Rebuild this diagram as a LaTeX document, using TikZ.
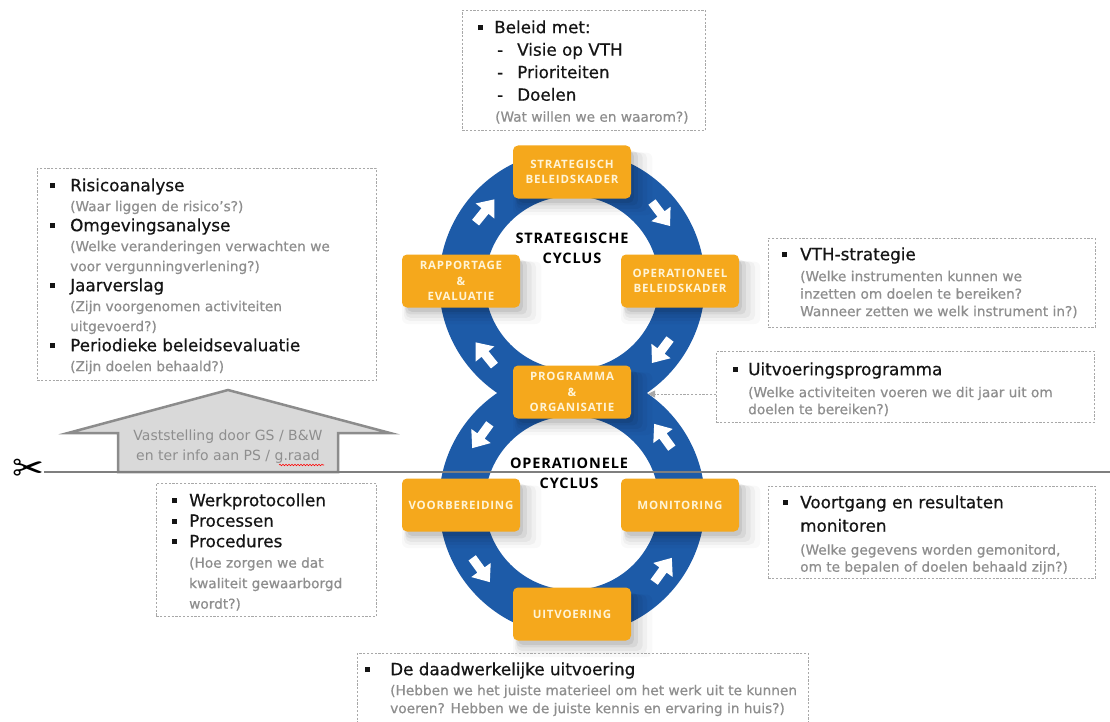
\documentclass[tikz,border=0pt]{standalone}
\usepackage{fontspec}
\setmainfont{DejaVu Sans}
\newfontfamily\boxf{Open Sans}
\newfontfamily\symf{DejaVu Sans}
\usetikzlibrary{arrows.meta,decorations.pathmorphing,shadows}
\definecolor{ringblue}{HTML}{1D5BA8}
\definecolor{boxorange}{HTML}{F5A81C}
\definecolor{boxtext}{HTML}{FFF4D6}
\definecolor{graytxt}{HTML}{8E8E8E}
\definecolor{dashgray}{HTML}{A8A8A8}
\definecolor{linegray}{HTML}{7F7F7F}
\definecolor{housefill}{HTML}{D9D9D9}
\definecolor{houseline}{HTML}{8C8C8C}
\definecolor{blacktxt}{HTML}{151515}
\newcommand\bl[1]{\makebox[#1][l]{\raisebox{3pt}{\rule{5pt}{5pt}}}}
\newcommand\gtx[1]{{\color{graytxt}\fontsize{13.7}{16}\selectfont #1}}
\newcommand\fst{\rule{0pt}{14pt}}
\tikzset{
  warr/.pic={\fill[white] (-15,-4.5) -- (0,-4.5) -- (0,-12) -- (15,0) -- (0,12) -- (0,4.5) -- (-15,4.5) -- cycle;},
  obox/.style={rectangle, rounded corners=5pt, fill=boxorange, minimum width=118pt,
    minimum height=53pt, inner sep=0pt, text=boxtext, align=center,
    font=\boxf\bfseries\fontsize{11.5}{15.5}\selectfont\addfontfeature{LetterSpace=7},
    general shadow={fill=black, opacity=0.025, shadow xshift=9pt, shadow yshift=-10pt, shadow scale=1.18},
    general shadow={fill=black, opacity=0.035, shadow xshift=8pt, shadow yshift=-9pt, shadow scale=1.12},
    general shadow={fill=black, opacity=0.045, shadow xshift=7pt, shadow yshift=-8pt, shadow scale=1.07},
    general shadow={fill=black, opacity=0.06, shadow xshift=5pt, shadow yshift=-6pt, shadow scale=1.03},
    general shadow={fill=black, opacity=0.07, shadow xshift=4pt, shadow yshift=-5pt, shadow scale=0.98}},
  dbox/.style={draw=dashgray, line width=0.9pt, dash pattern=on 2.2pt off 1.6pt, inner sep=0pt, anchor=north west},
  btxt/.style={anchor=north west, inner sep=0pt, align=left, text=blacktxt,
    font=\fontsize{16.8}{#1}\selectfont\addfontfeature{FakeBold=0.6}},
  ctxt/.style={font=\boxf\bfseries\fontsize{14.5}{20}\selectfont\addfontfeature{LetterSpace=6}, align=center, inner sep=0pt},
}
\begin{document}
\begin{tikzpicture}[x=1pt,y=-1pt]
\useasboundingbox (0,0) rectangle (1110,722);
\fill[white] (0,0) rectangle (1110,722);

% rings
\coordinate (uc) at (572,283);
\coordinate (lc) at (572,503);
\fill[ringblue, even odd rule] (uc) circle[radius=133pt] (uc) circle[radius=87pt];
\fill[ringblue, even odd rule] (lc) circle[radius=133pt] (lc) circle[radius=87pt];

% white arrows
\pic[rotate=51] at (485,211) {warr};
\pic[rotate=-53] at (661,214) {warr};
\pic[rotate=-127] at (661,351) {warr};
\pic[rotate=129] at (485,354) {warr};
\pic[rotate=-126] at (481,436) {warr};
\pic[rotate=126] at (663,436) {warr};
\pic[rotate=-54] at (481,570) {warr};
\pic[rotate=54] at (663,570) {warr};

% house
\draw[fill=housefill, draw=houseline, line width=2.5pt, line join=miter]
  (118,472) -- (118,433) -- (68,433) -- (228,390) -- (390,433) -- (338,433) -- (338,472) -- cycle;
\node[align=center, text=graytxt, font=\fontsize{14}{20}\selectfont, inner sep=0pt] (house) at (228,447)
  {Vaststelling door GS / B\&W\\en ter info aan PS / g.raad};
\draw[red, line width=0.6pt, decorate, decoration={snake, amplitude=0.7pt, segment length=3pt}] (279,465) -- (324,465);

% cut line
\node[font=\symf\fontsize{38}{38}\selectfont, inner sep=0pt] (sc) at (28,470) {✂};
\coordinate (cutR) at (1110,472);
\draw[linegray, line width=2.5pt] (sc.east |- cutR) -- (cutR);

% cycle labels
\node[ctxt] (sc1) at (572,248) {STRATEGISCHE\\CYCLUS};
\node[ctxt] (oc1) at (569,473) {OPERATIONELE\\CYCLUS};

% orange boxes
\node[obox] (sbk) at (572,172) {STRATEGISCH\\BELEIDSKADER};
\node[obox] (rap) at (461,281) {RAPPORTAGE\\\&\\EVALUATIE};
\node[obox] (obk) at (680,281) {OPERATIONEEL\\BELEIDSKADER};
\node[obox] (prog) at (572,392) {PROGRAMMA\\\&\\ORGANISATIE};
\node[obox] (voor) at (461,505) {VOORBEREIDING};
\node[obox] (mon) at (680,505) {MONITORING};
\node[obox] (uitv) at (572,614) {UITVOERING};

% dashed text boxes
\node[dbox, minimum width=243pt, minimum height=120pt] (topbox) at (462,10) {};
\node[btxt=22.5] (toptxt) at (478,19) {\fst\bl{16pt}Beleid met:\\
  \hspace*{19pt}\makebox[20pt][l]{-}Visie op VTH\\
  \hspace*{19pt}\makebox[20pt][l]{-}Prioriteiten\\
  \hspace*{19pt}\makebox[20pt][l]{-}Doelen\\[-1.5pt]
  \hspace*{17pt}\gtx{(Wat willen we en waarom?)}};

\node[dbox, minimum width=339pt, minimum height=212pt] (leftbox) at (37,168) {};
\node[btxt=20] (lefttxt) at (50,177) {\fst\bl{20pt}Risicoanalyse\\
  \hspace*{20pt}\gtx{(Waar liggen de risico's?)}\\
  \bl{20pt}Omgevingsanalyse\\
  \hspace*{20pt}\gtx{(Welke veranderingen verwachten we}\\
  \hspace*{20pt}\gtx{voor vergunningverlening?)}\\
  \bl{20pt}Jaarverslag\\
  \hspace*{20pt}\gtx{(Zijn voorgenomen activiteiten}\\
  \hspace*{20pt}\gtx{uitgevoerd?)}\\
  \bl{20pt}Periodieke beleidsevaluatie\\
  \hspace*{20pt}\gtx{(Zijn doelen behaald?)}};

\node[dbox, minimum width=220pt, minimum height=133pt] (blbox) at (156,483) {};
\node[btxt=20.5] (bltxt) at (172,492) {\fst\bl{17pt}Werkprotocollen\\
  \bl{17pt}Processen\\
  \bl{17pt}Procedures\\
  \hspace*{17pt}\gtx{(Hoe zorgen we dat}\\
  \hspace*{17pt}\gtx{kwaliteit gewaarborgd}\\
  \hspace*{17pt}\gtx{wordt?)}};

\node[dbox, minimum width=327pt, minimum height=89pt] (vthbox) at (768,238) {};
\node[btxt=17.5] (vthtxt) at (782,246) {\fst\bl{18pt}VTH-strategie\\[3.5pt]
  \hspace*{18pt}\gtx{(Welke instrumenten kunnen we}\\
  \hspace*{18pt}\gtx{inzetten om doelen te bereiken?}\\
  \hspace*{18pt}\gtx{Wanneer zetten we welk instrument in?)}};

\node[dbox, minimum width=378pt, minimum height=71pt] (upbox) at (716,351) {};
\node[btxt=17] (uptxt) at (733,361) {\fst\bl{15pt}Uitvoeringsprogramma\\[5pt]
  \hspace*{15pt}\gtx{(Welke activiteiten voeren we dit jaar uit om}\\
  \hspace*{15pt}\gtx{doelen te bereiken?)}};

\node[dbox, minimum width=327pt, minimum height=92pt] (vgbox) at (768,486) {};
\node[btxt=17] (vgtxt) at (783,494) {\fst\bl{17pt}Voortgang en resultaten\\[6.5pt]
  \hspace*{17pt}monitoren\\[6pt]
  \hspace*{17pt}\gtx{(Welke gegevens worden gemonitord,}\\
  \hspace*{17pt}\gtx{om te bepalen of doelen behaald zijn?)}};

\node[dbox, minimum width=451pt, minimum height=75pt] (botbox) at (357,653) {};
\node[btxt=18] (bottxt) at (365,661) {\fst\bl{25pt}De daadwerkelijke uitvoering\\[2pt]
  \hspace*{25pt}\gtx{(Hebben we het juiste materieel om het werk uit te kunnen}\\
  \hspace*{25pt}\gtx{voeren? Hebben we de juiste kennis en ervaring in huis?)}};

% connector
\coordinate (ptip) at (648,394);
\draw[dashgray, line width=0.9pt, dash pattern=on 2.2pt off 1.6pt, -{Triangle[length=7pt,width=7pt]}]
  (upbox.west |- ptip) -- (ptip);
\end{tikzpicture}
\end{document}
